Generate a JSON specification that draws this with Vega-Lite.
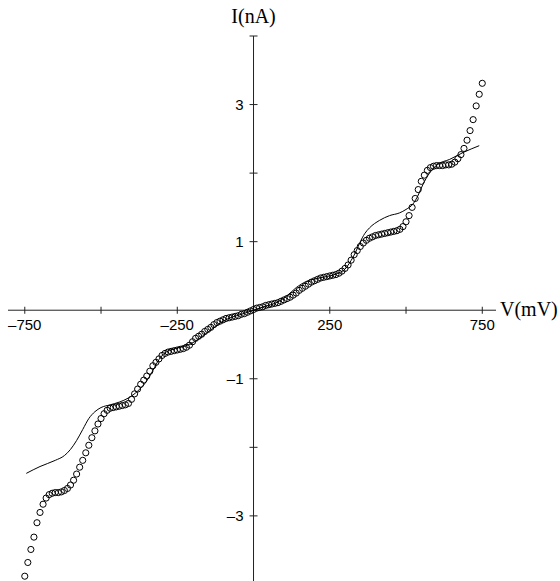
{
  "$schema": "https://vega.github.io/schema/vega-lite/v6.json",
  "width": 488,
  "height": 545,
  "autosize": {"type": "none"},
  "padding": {"left": 8, "top": 36, "right": 64, "bottom": 0},
  "background": "white",
  "config": {"view": {"stroke": null}},
  "datasets": {
    "axes": [
      {"v": -805, "v2": 795, "i": 0, "i2": 0},
      {"v": 0, "v2": 0, "i": -3.95, "i2": 4}
    ],
    "xticks": [
      {"v": -750, "i": 0}, {"v": -500, "i": 0}, {"v": -250, "i": 0},
      {"v": 250, "i": 0}, {"v": 500, "i": 0}, {"v": 750, "i": 0}
    ],
    "yticks": [
      {"v": 0, "i": 4}, {"v": 0, "i": 3}, {"v": 0, "i": 2}, {"v": 0, "i": 1},
      {"v": 0, "i": -1}, {"v": 0, "i": -2}, {"v": 0, "i": -3}
    ],
    "xlabels": [
      {"v": -750, "i": 0, "label": "–750"}, {"v": -250, "i": 0, "label": "–250"},
      {"v": 250, "i": 0, "label": "250"}, {"v": 750, "i": 0, "label": "750"}
    ],
    "ylabels": [
      {"v": 0, "i": 3, "label": "3"}, {"v": 0, "i": 1, "label": "1"},
      {"v": 0, "i": -1, "label": "–1"}, {"v": 0, "i": -3, "label": "–3"}
    ],
    "xtitle": [{"v": 795, "i": 0, "label": "V(mV)"}],
    "ytitle": [{"v": 0, "i": 4, "label": "I(nA)"}],
    "theory": [
      {"v": -745, "i": -2.38}, {"v": -700, "i": -2.28}, {"v": -650, "i": -2.19},
      {"v": -620, "i": -2.12}, {"v": -600, "i": -2.03}, {"v": -580, "i": -1.9},
      {"v": -560, "i": -1.74}, {"v": -540, "i": -1.58}, {"v": -520, "i": -1.48},
      {"v": -500, "i": -1.42}, {"v": -470, "i": -1.38}, {"v": -440, "i": -1.34},
      {"v": -410, "i": -1.28}, {"v": -380, "i": -1.18}, {"v": -350, "i": -1.03},
      {"v": -330, "i": -0.88}, {"v": -310, "i": -0.72}, {"v": -290, "i": -0.62},
      {"v": -270, "i": -0.58}, {"v": -240, "i": -0.54}, {"v": -210, "i": -0.5},
      {"v": -180, "i": -0.42}, {"v": -150, "i": -0.32}, {"v": -120, "i": -0.22},
      {"v": -100, "i": -0.16}, {"v": -70, "i": -0.1}, {"v": -40, "i": -0.06},
      {"v": 0, "i": 0}, {"v": 40, "i": 0.06}, {"v": 70, "i": 0.1},
      {"v": 107, "i": 0.2}, {"v": 140, "i": 0.33}, {"v": 173, "i": 0.42},
      {"v": 216, "i": 0.47}, {"v": 271, "i": 0.53}, {"v": 300, "i": 0.6},
      {"v": 315, "i": 0.69}, {"v": 335, "i": 0.85}, {"v": 348, "i": 0.98},
      {"v": 365, "i": 1.12}, {"v": 380, "i": 1.2}, {"v": 413, "i": 1.31},
      {"v": 446, "i": 1.38}, {"v": 479, "i": 1.42}, {"v": 500, "i": 1.47},
      {"v": 523, "i": 1.55}, {"v": 540, "i": 1.68}, {"v": 555, "i": 1.83},
      {"v": 577, "i": 2.0}, {"v": 605, "i": 2.13}, {"v": 643, "i": 2.2},
      {"v": 687, "i": 2.3}, {"v": 740, "i": 2.4}
    ],
    "measured": [
      {"v": -750, "i": -3.88}, {"v": -740, "i": -3.68}, {"v": -730, "i": -3.49},
      {"v": -720, "i": -3.31}, {"v": -710, "i": -3.1}, {"v": -700, "i": -2.95},
      {"v": -690, "i": -2.83}, {"v": -680, "i": -2.74}, {"v": -670, "i": -2.69},
      {"v": -660, "i": -2.67}, {"v": -650, "i": -2.66}, {"v": -640, "i": -2.66},
      {"v": -630, "i": -2.65}, {"v": -620, "i": -2.63}, {"v": -610, "i": -2.6},
      {"v": -600, "i": -2.55}, {"v": -590, "i": -2.48}, {"v": -580, "i": -2.39},
      {"v": -570, "i": -2.29}, {"v": -560, "i": -2.19}, {"v": -550, "i": -2.08},
      {"v": -540, "i": -1.97}, {"v": -530, "i": -1.86}, {"v": -520, "i": -1.76},
      {"v": -510, "i": -1.66}, {"v": -500, "i": -1.58}, {"v": -490, "i": -1.51},
      {"v": -480, "i": -1.46}, {"v": -470, "i": -1.43}, {"v": -460, "i": -1.42},
      {"v": -450, "i": -1.41}, {"v": -440, "i": -1.4}, {"v": -430, "i": -1.39},
      {"v": -420, "i": -1.38}, {"v": -410, "i": -1.36}, {"v": -400, "i": -1.3},
      {"v": -390, "i": -1.22}, {"v": -380, "i": -1.15}, {"v": -370, "i": -1.08},
      {"v": -360, "i": -1.02}, {"v": -350, "i": -0.96}, {"v": -340, "i": -0.89},
      {"v": -330, "i": -0.81}, {"v": -320, "i": -0.76}, {"v": -310, "i": -0.71},
      {"v": -300, "i": -0.66}, {"v": -290, "i": -0.63}, {"v": -280, "i": -0.61},
      {"v": -270, "i": -0.6}, {"v": -260, "i": -0.59}, {"v": -250, "i": -0.58},
      {"v": -240, "i": -0.57}, {"v": -230, "i": -0.56}, {"v": -220, "i": -0.54},
      {"v": -210, "i": -0.51}, {"v": -200, "i": -0.46}, {"v": -190, "i": -0.41},
      {"v": -180, "i": -0.38}, {"v": -170, "i": -0.35}, {"v": -160, "i": -0.31},
      {"v": -150, "i": -0.28}, {"v": -140, "i": -0.25}, {"v": -130, "i": -0.21},
      {"v": -120, "i": -0.18}, {"v": -110, "i": -0.16}, {"v": -100, "i": -0.14},
      {"v": -90, "i": -0.12}, {"v": -80, "i": -0.11}, {"v": -70, "i": -0.1},
      {"v": -60, "i": -0.09}, {"v": -50, "i": -0.08}, {"v": -40, "i": -0.06},
      {"v": -30, "i": -0.05}, {"v": -20, "i": -0.03}, {"v": -10, "i": -0.01},
      {"v": 0, "i": 0.01}, {"v": 10, "i": 0.03}, {"v": 20, "i": 0.04},
      {"v": 30, "i": 0.05}, {"v": 40, "i": 0.07}, {"v": 50, "i": 0.08},
      {"v": 60, "i": 0.09}, {"v": 70, "i": 0.1}, {"v": 80, "i": 0.11},
      {"v": 90, "i": 0.13}, {"v": 100, "i": 0.15}, {"v": 110, "i": 0.17},
      {"v": 120, "i": 0.19}, {"v": 130, "i": 0.22}, {"v": 140, "i": 0.25},
      {"v": 150, "i": 0.29}, {"v": 160, "i": 0.32}, {"v": 170, "i": 0.35},
      {"v": 180, "i": 0.38}, {"v": 190, "i": 0.41}, {"v": 200, "i": 0.43},
      {"v": 210, "i": 0.45}, {"v": 220, "i": 0.47}, {"v": 230, "i": 0.48},
      {"v": 240, "i": 0.49}, {"v": 250, "i": 0.5}, {"v": 260, "i": 0.51},
      {"v": 270, "i": 0.52}, {"v": 280, "i": 0.54}, {"v": 290, "i": 0.57},
      {"v": 300, "i": 0.61}, {"v": 310, "i": 0.66}, {"v": 320, "i": 0.73},
      {"v": 330, "i": 0.81}, {"v": 340, "i": 0.87}, {"v": 350, "i": 0.93},
      {"v": 360, "i": 0.98}, {"v": 370, "i": 1.02}, {"v": 380, "i": 1.05},
      {"v": 390, "i": 1.07}, {"v": 400, "i": 1.09}, {"v": 410, "i": 1.1},
      {"v": 420, "i": 1.11}, {"v": 430, "i": 1.12}, {"v": 440, "i": 1.13},
      {"v": 450, "i": 1.14}, {"v": 460, "i": 1.15}, {"v": 470, "i": 1.16},
      {"v": 480, "i": 1.18}, {"v": 490, "i": 1.22}, {"v": 500, "i": 1.29},
      {"v": 510, "i": 1.38}, {"v": 520, "i": 1.5}, {"v": 530, "i": 1.63},
      {"v": 540, "i": 1.76}, {"v": 550, "i": 1.88}, {"v": 560, "i": 1.97},
      {"v": 570, "i": 2.04}, {"v": 580, "i": 2.08}, {"v": 590, "i": 2.1},
      {"v": 600, "i": 2.11}, {"v": 610, "i": 2.11}, {"v": 620, "i": 2.11},
      {"v": 630, "i": 2.12}, {"v": 640, "i": 2.12}, {"v": 650, "i": 2.13},
      {"v": 660, "i": 2.16}, {"v": 670, "i": 2.21}, {"v": 680, "i": 2.27},
      {"v": 690, "i": 2.36}, {"v": 700, "i": 2.48}, {"v": 710, "i": 2.62},
      {"v": 720, "i": 2.78}, {"v": 730, "i": 2.98}, {"v": 740, "i": 3.15},
      {"v": 750, "i": 3.31}
    ]
  },
  "encoding": {
    "x": {"field": "v", "type": "quantitative", "scale": {"domain": [-805, 795], "nice": false, "zero": false}, "axis": null},
    "y": {"field": "i", "type": "quantitative", "scale": {"domain": [-3.95, 4], "nice": false, "zero": false}, "axis": null}
  },
  "layer": [
    {
      "data": {"name": "axes"},
      "mark": {"type": "rule", "color": "#222", "strokeWidth": 1},
      "encoding": {"x2": {"field": "v2"}, "y2": {"field": "i2"}}
    },
    {
      "data": {"name": "xticks"},
      "mark": {"type": "tick", "orient": "vertical", "size": 7, "thickness": 1, "color": "#222", "opacity": 1}
    },
    {
      "data": {"name": "yticks"},
      "mark": {"type": "tick", "orient": "horizontal", "size": 8, "thickness": 1, "color": "#222", "opacity": 1}
    },
    {
      "data": {"name": "xlabels"},
      "mark": {"type": "text", "font": "Liberation Sans", "fontSize": 15, "align": "center", "baseline": "top", "dy": 8, "color": "black"},
      "encoding": {"text": {"field": "label"}}
    },
    {
      "data": {"name": "ylabels"},
      "mark": {"type": "text", "font": "Liberation Sans", "fontSize": 15, "align": "right", "baseline": "middle", "dx": -10, "color": "black"},
      "encoding": {"text": {"field": "label"}}
    },
    {
      "data": {"name": "xtitle"},
      "mark": {"type": "text", "font": "Liberation Serif", "fontSize": 20, "align": "left", "baseline": "middle", "dx": 4, "color": "black"},
      "encoding": {"text": {"field": "label"}}
    },
    {
      "data": {"name": "ytitle"},
      "mark": {"type": "text", "font": "Liberation Serif", "fontSize": 20, "align": "center", "baseline": "alphabetic", "dy": -13, "color": "black"},
      "encoding": {"text": {"field": "label"}}
    },
    {
      "data": {"name": "theory"},
      "mark": {"type": "line", "color": "black", "strokeWidth": 1, "interpolate": "monotone"}
    },
    {
      "data": {"name": "measured"},
      "mark": {"type": "point", "shape": "circle", "filled": false, "stroke": "black", "strokeWidth": 1, "size": 38, "opacity": 1}
    }
  ]
}
